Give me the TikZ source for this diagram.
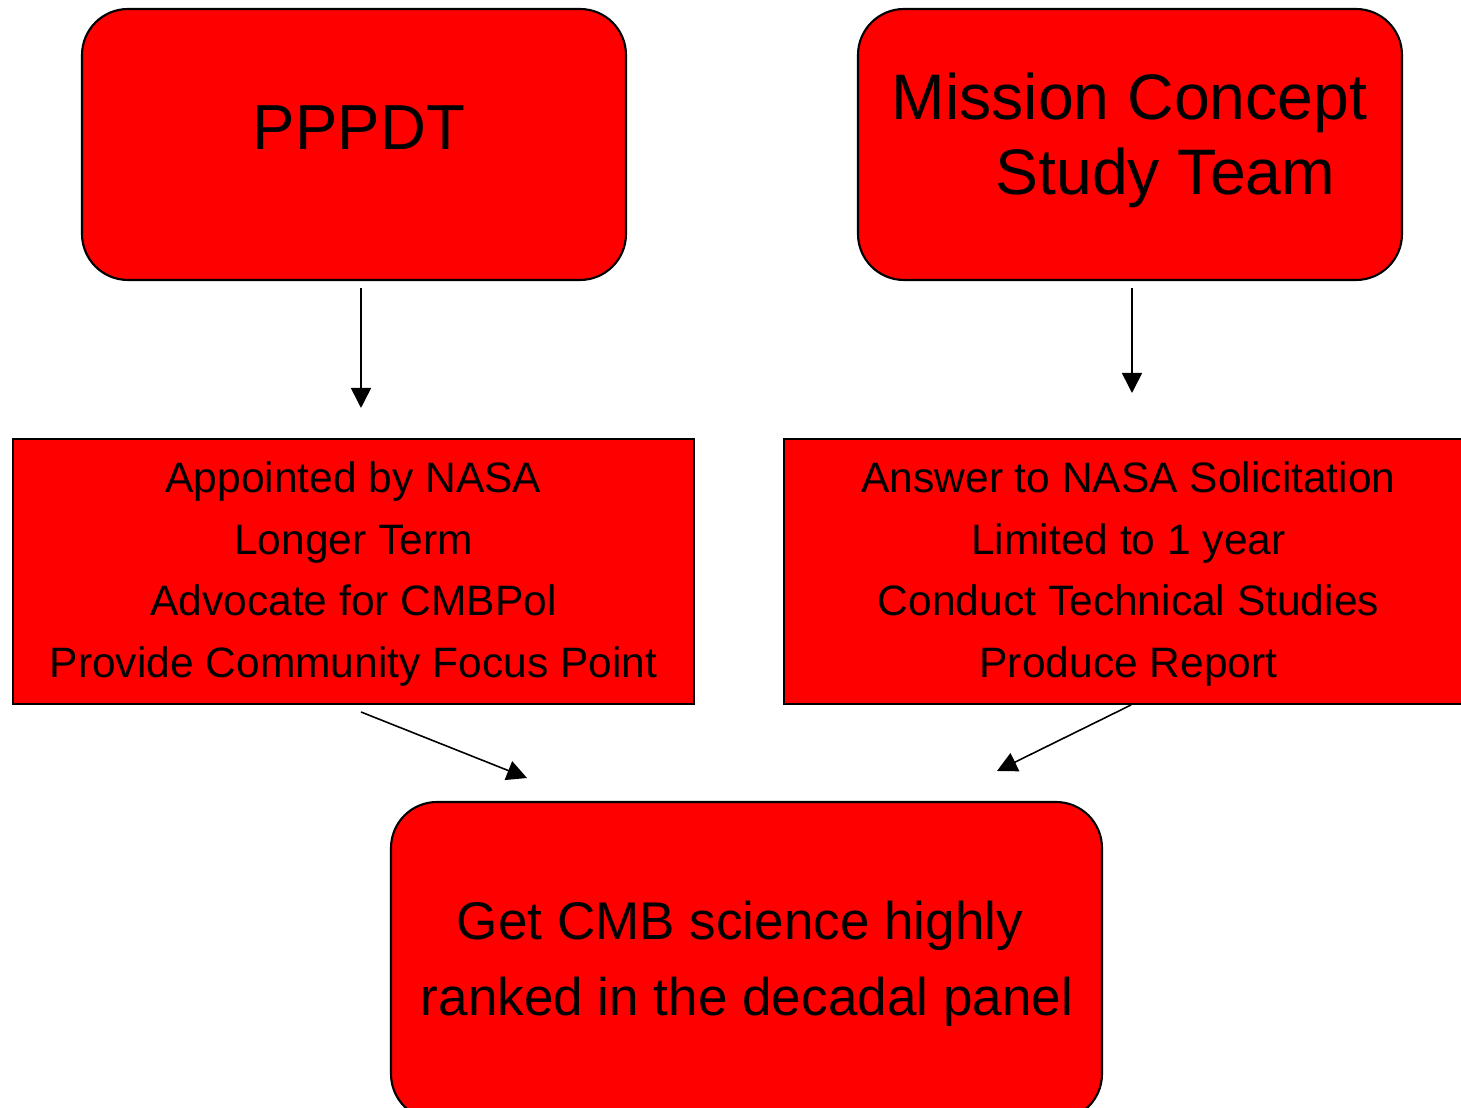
\documentclass[tikz,border=0pt]{standalone}
\usepackage{fontspec}
\setmainfont{Liberation Sans}
\usetikzlibrary{arrows.meta}
\begin{document}
\begin{tikzpicture}[x=0.1mm,y=-0.1mm,
  roundbox/.style={draw=black,line width=0.6pt,fill=red,rounded corners=4.6mm,inner sep=0pt},
  listbox/.style={draw=black,line width=0.6pt,fill=red,inner sep=0pt},
  bigtext/.style={font=\fontsize{18.3}{21}\selectfont,anchor=base,inner sep=0pt},
  midtext/.style={font=\fontsize{15.1}{18}\selectfont,anchor=base,inner sep=0pt},
  smalltext/.style={font=\fontsize{12.1}{14}\selectfont,anchor=base,inner sep=0pt},
  arr/.style={-{Triangle[length=5.7pt,width=5.7pt]},line width=0.45pt}]
\useasboundingbox (0,0) rectangle (1461,1108);
\clip (0,0) rectangle (1461,1108);

% boxes
\node[roundbox,minimum width=54.4mm,minimum height=27.1mm] (ppp) at (354,144.5) {};
\node[roundbox,minimum width=54.4mm,minimum height=27.1mm] (mcst) at (1130,144.5) {};
\node[listbox,minimum width=68.1mm,minimum height=26.5mm] (leftlist) at (353.5,571.5) {};
\node[listbox,minimum width=68.9mm,minimum height=26.5mm] (rightlist) at (1128.5,571.5) {};
\node[roundbox,minimum width=71.1mm,minimum height=31.8mm] (goal) at (746.5,961) {};

% titles
\node[bigtext,font=\fontsize{18.1}{21}\selectfont] (pppT) at (359,150) {PPPDT};
\node[bigtext] (mcstT1) at (1129.5,120) {Mission Concept};
\node[bigtext] (mcstT2) at (1165.5,195) {Study Team};

% left list
\node[smalltext] (l1) at (353.5,493) {Appointed by NASA};
\node[smalltext] (l2) at (353.5,555) {Longer Term};
\node[smalltext] (l3) at (353.5,616) {Advocate for CMBPol};
\node[smalltext] (l4) at (353.5,678) {Provide Community Focus Point};

% right list
\node[smalltext] (r1) at (1128.5,493) {Answer to NASA Solicitation};
\node[smalltext] (r2) at (1128.5,555) {Limited to 1 year};
\node[smalltext] (r3) at (1128.5,616) {Conduct Technical Studies};
\node[smalltext] (r4) at (1128.5,678) {Produce Report};

% goal
\node[midtext] (g1) at (740,940) {Get CMB science highly};
\node[midtext] (g2) at (747,1016) {ranked in the decadal panel};

% arrow ends
\coordinate (a1s) at (361,288);
\coordinate (a1e) at (361,408);
\coordinate (a2s) at (1132,288);
\coordinate (a2e) at (1132,393);
\coordinate (a3s) at (361,712);
\coordinate (a3e) at (527,778);
\coordinate (a4s) at (1131,705);
\coordinate (a4e) at (997,771);

\draw[arr] (a1s) -- (a1e);
\draw[arr] (a2s) -- (a2e);
\draw[arr] (a3s) -- (a3e);
\draw[arr] (a4s) -- (a4e);
\end{tikzpicture}
\end{document}
